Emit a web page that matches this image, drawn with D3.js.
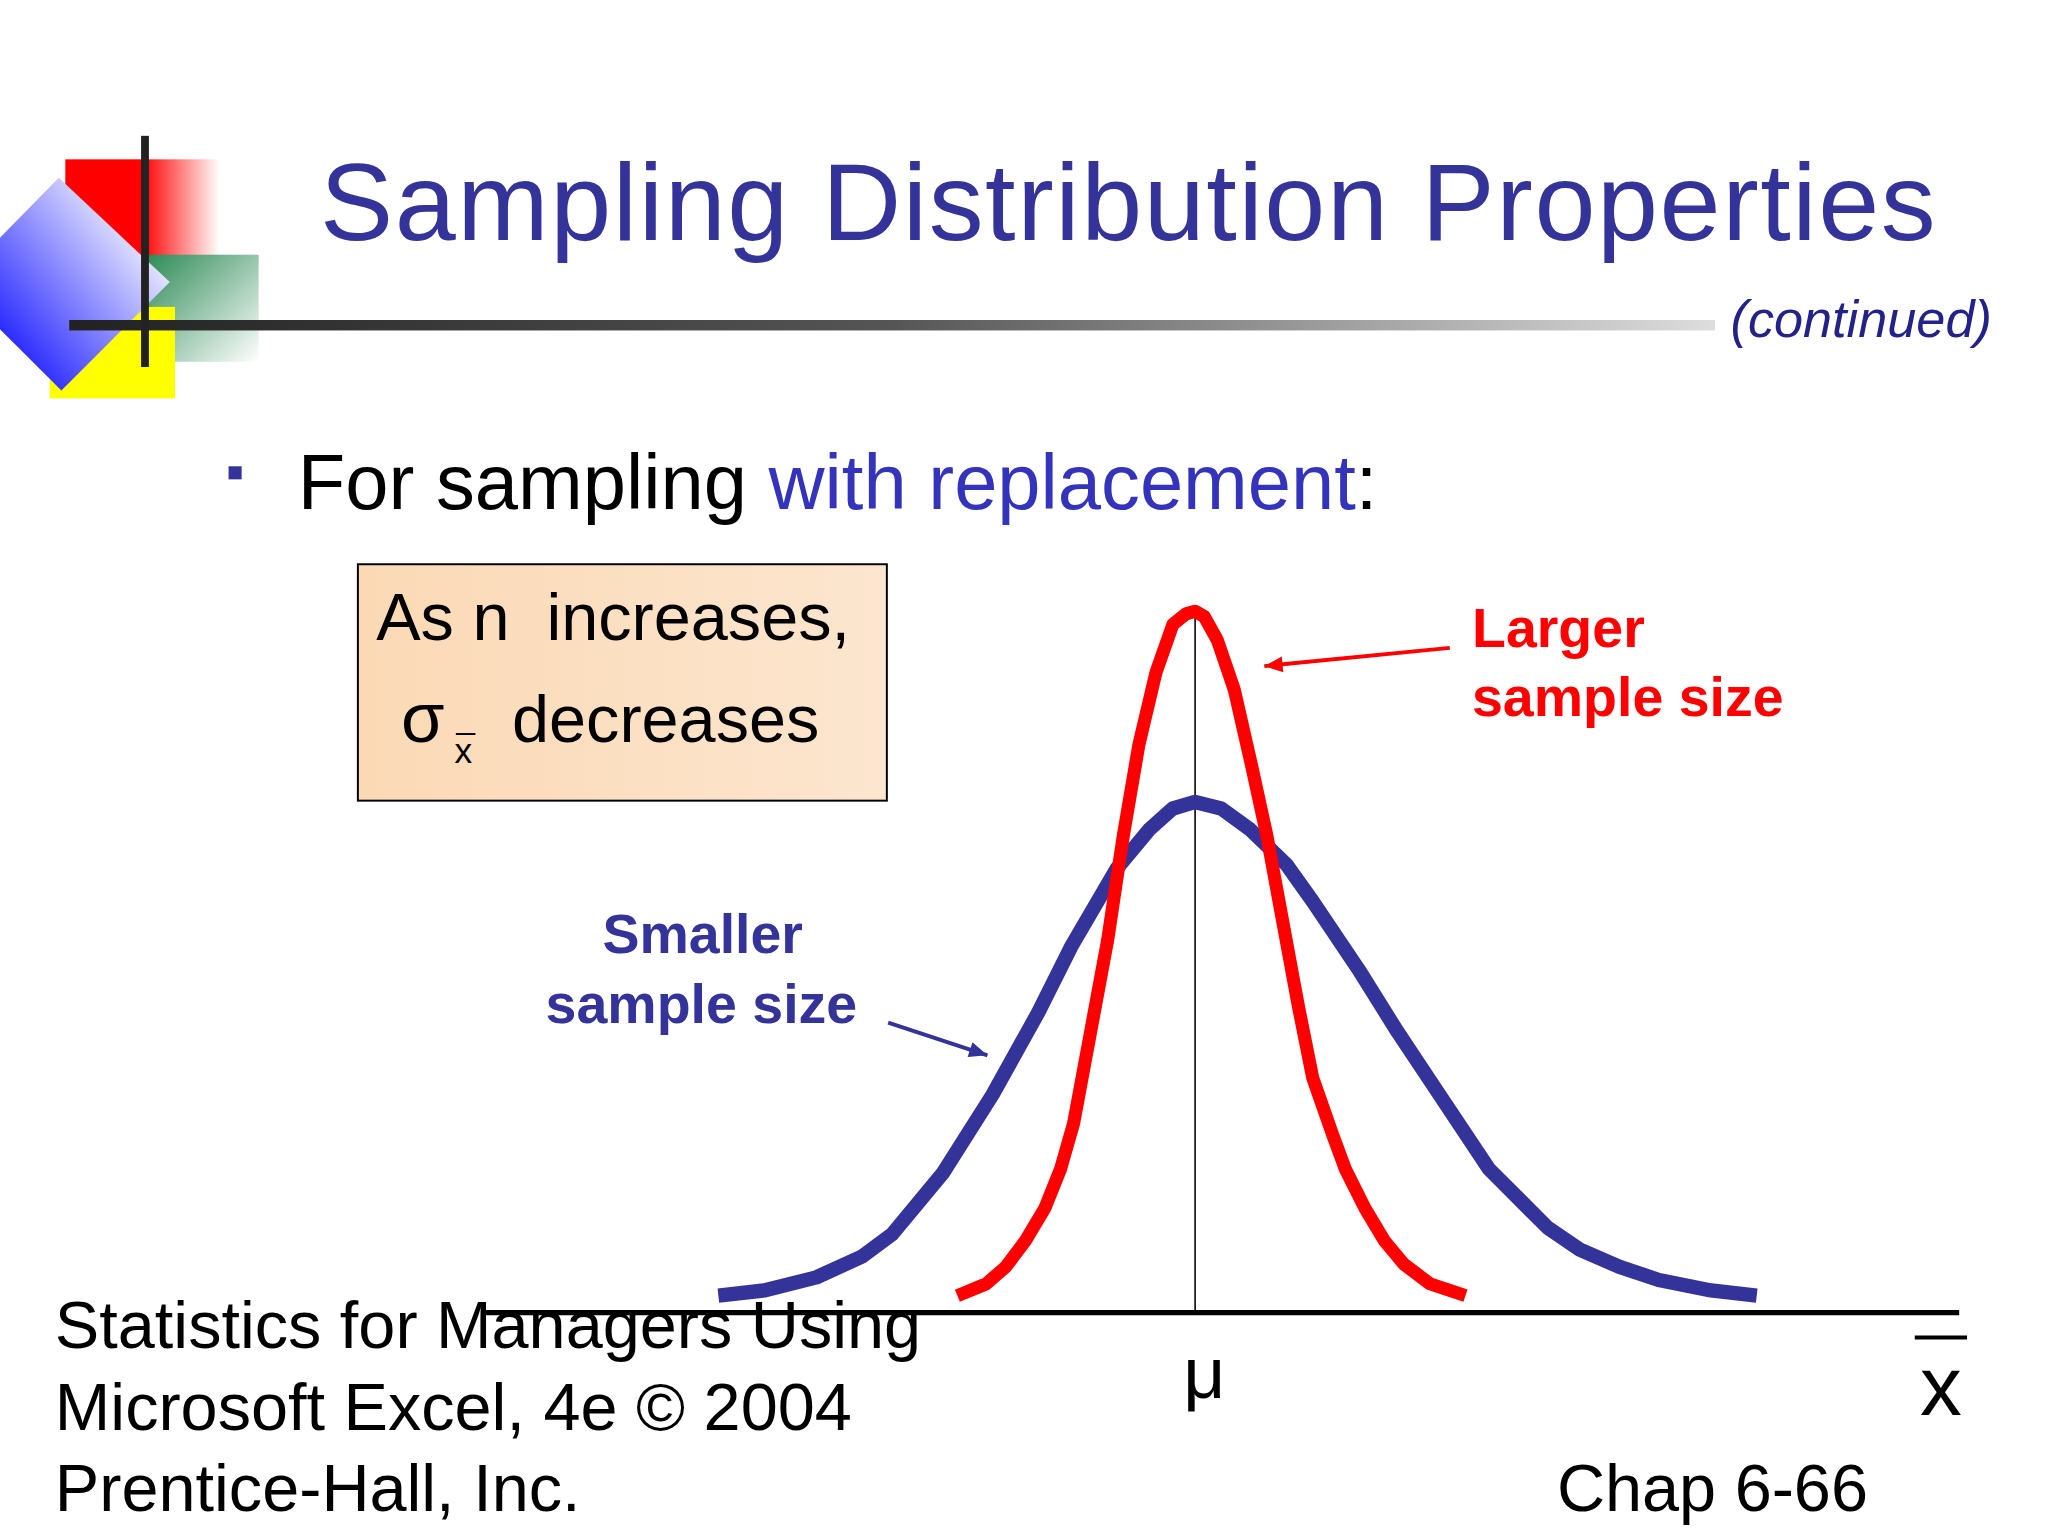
<!DOCTYPE html>
<html><head><meta charset="utf-8">
<script src="https://cdn.jsdelivr.net/npm/d3@7"></script>
<style>html,body{margin:0;padding:0;background:#fff;overflow:hidden}svg{display:block}</style>
</head><body>
<svg id="c" width="2048" height="1536" viewBox="0 0 1568 1176"></svg>
<script>
// Data: x in units from μ, y = curve height
const smallerX = [-3.65,-3.3,-2.9,-2.55,-2.32,-1.93,-1.55,-1.2,-0.95,-0.6,-0.35,-0.17,0,0.2,0.42,0.7,0.9,1.25,1.55,1.85,2.25,2.7,2.95,3.25,3.55,3.95,4.3];
const smallerY = [0.13,0.17,0.27,0.43,0.6,1.07,1.67,2.3,2.8,3.4,3.7,3.86,3.91,3.86,3.7,3.43,3.15,2.63,2.15,1.7,1.1,0.65,0.48,0.35,0.25,0.17,0.13];
const largerX = [-1.82,-1.6,-1.45,-1.3,-1.15,-1.03,-0.93,-0.8,-0.67,-0.55,-0.43,-0.3,-0.17,-0.07,0,0.07,0.17,0.3,0.43,0.55,0.67,0.79,0.9,1.05,1.15,1.3,1.45,1.6,1.8,2.07];
const largerY = [0.13,0.22,0.35,0.55,0.8,1.1,1.45,2.15,2.85,3.65,4.35,4.9,5.27,5.35,5.37,5.33,5.15,4.77,4.2,3.65,3.0,2.35,1.8,1.37,1.1,0.8,0.55,0.37,0.22,0.13];
const titleText = "Sampling Distribution Properties";
const footerLines = ["Statistics for Managers Using","Microsoft Excel, 4e © 2004","Prentice-Hall, Inc."];

const svg = d3.select("#c");
const defs = svg.append("defs");
function lg(id, x1,y1,x2,y2, stops){const g=defs.append("linearGradient").attr("id",id).attr("x1",x1).attr("y1",y1).attr("x2",x2).attr("y2",y2);stops.forEach(s=>g.append("stop").attr("offset",s[0]).attr("stop-color",s[1]).attr("stop-opacity",s[2]??1));}
lg("gRed",0,0,1,0,[[0,"#ff0000"],[0.5,"#ff0000"],[1,"#ffffff"]]);
lg("gGreen",0,0,1,1,[[0,"#2e8b57"],[1,"#ffffff"]]);
lg("gBlue",0,1,1,0,[[0,"#0000ff"],[0.85,"#ffffff"]]);
lg("gLine",0,0,1,0,[[0,"#222"],[0.5,"#555"],[1,"#ddd"]]);
lg("gBox",0,0,1,0,[[0,"#fbd9b5"],[1,"#fce6cf"]]);
const F="Liberation Sans, Arial, sans-serif";

// logo
svg.append("rect").attr("x",50).attr("y",122).attr("width",118).attr("height",114).attr("fill","url(#gRed)");
svg.append("rect").attr("x",113).attr("y",195).attr("width",85).attr("height",82).attr("fill","url(#gGreen)");
svg.append("rect").attr("x",38).attr("y",235).attr("width",96).attr("height",70).attr("fill","#ffff00");
svg.append("polygon").attr("points","45,136 130,216 47,299 0,252 0,182").attr("fill","url(#gBlue)");
svg.append("rect").attr("x",53).attr("y",245).attr("width",1260).attr("height",8).attr("fill","url(#gLine)");
svg.append("rect").attr("x",108).attr("y",104).attr("width",6).attr("height",177).attr("fill","#222");

svg.append("text").attr("x",245).attr("y",184).attr("font-family",F).attr("font-size",84).attr("fill","#333399").attr("textLength",1237).text(titleText);
svg.append("text").attr("x",1525).attr("y",258).attr("text-anchor","end").attr("font-family",F).attr("font-style","italic").attr("font-size",40).attr("fill","#222288").text("(continued)");

svg.append("rect").attr("x",175).attr("y",357).attr("width",10).attr("height",10).attr("fill","#333399");
const t=svg.append("text").attr("x",228).attr("y",390).attr("font-family",F).attr("font-size",59.5).attr("fill","#000");
t.append("tspan").text("For sampling ");
t.append("tspan").attr("fill","#3333bb").text("with replacement");
t.append("tspan").text(":");

svg.append("rect").attr("x",274).attr("y",432).attr("width",405).attr("height",181).attr("fill","url(#gBox)").attr("stroke","#000").attr("stroke-width",1.5);
svg.append("text").attr("x",288).attr("y",490).attr("font-family",F).attr("font-size",51).attr("xml:space","preserve").text("As n  increases,");
svg.append("text").attr("x",307).attr("y",568).attr("font-family",F).attr("font-size",54).text("σ");
svg.append("text").attr("x",348).attr("y",584).attr("font-family",F).attr("font-size",27).text("x");
svg.append("line").attr("x1",349).attr("x2",364).attr("y1",562).attr("y2",562).attr("stroke","#000").attr("stroke-width",1.5);
svg.append("text").attr("x",392).attr("y",568).attr("font-family",F).attr("font-size",51).text("decreases");

// chart
const x = d3.scaleLinear().domain([-5.45,5.85]).range([370,1500]);
const y = d3.scaleLinear().domain([0,5.4]).range([1005,465]);
svg.append("line").attr("x1",x(-5.45)).attr("x2",x(5.85)).attr("y1",y(0)).attr("y2",y(0)).attr("stroke","#000").attr("stroke-width",4);
svg.append("line").attr("x1",x(0)).attr("x2",x(0)).attr("y1",y(0)).attr("y2",y(5.37)).attr("stroke","#000").attr("stroke-width",1.2);
const line=d3.line().x(d=>x(d[0])).y(d=>y(d[1]));
svg.append("path").datum(d3.zip(smallerX,smallerY)).attr("d",line).attr("fill","none").attr("stroke","#333399").attr("stroke-width",11).attr("stroke-linejoin","round");
svg.append("path").datum(d3.zip(largerX,largerY)).attr("d",line).attr("fill","none").attr("stroke","#ff0000").attr("stroke-width",10).attr("stroke-linejoin","round");

function arrow(x1,y1,x2,y2,c){svg.append("line").attr("x1",x1).attr("y1",y1).attr("x2",x2).attr("y2",y2).attr("stroke",c).attr("stroke-width",3);
 const a=Math.atan2(y2-y1,x2-x1),L=14,W=6;
 const p=[[x2,y2],[x2-L*Math.cos(a)+W*Math.sin(a),y2-L*Math.sin(a)-W*Math.cos(a)],[x2-L*Math.cos(a)-W*Math.sin(a),y2-L*Math.sin(a)+W*Math.cos(a)]];
 svg.append("polygon").attr("points",p.map(q=>q.join(",")).join(" ")).attr("fill",c);}
arrow(1110,496,968,510,"#ff0000");
arrow(680,783,756,808,"#333399");
const lbl=(txt,xx,yy,c,anc)=>svg.append("text").attr("x",xx).attr("y",yy).attr("fill",c).attr("text-anchor",anc).attr("font-family",F).attr("font-weight","bold").attr("font-size",42.5).text(txt);
lbl("Larger",1127,495,"#ff0000","start");
lbl("sample size",1127,548,"#ff0000","start");
lbl("Smaller",538,730,"#333399","middle");
lbl("sample size",537,783,"#333399","middle");

svg.append("text").attr("x",922).attr("y",1070).attr("text-anchor","middle").attr("font-family",F).attr("font-size",56).text("μ");
svg.append("text").attr("x",1486).attr("y",1083).attr("text-anchor","middle").attr("font-family",F).attr("font-size",64).text("x");
svg.append("line").attr("x1",1466).attr("x2",1506).attr("y1",1024).attr("y2",1024).attr("stroke","#000").attr("stroke-width",3);

footerLines.forEach((s,i)=>svg.append("text").attr("x",42).attr("y",1032+i*62.5).attr("font-family",F).attr("font-size",51).text(s));
svg.append("text").attr("x",1192).attr("y",1157).attr("font-family",F).attr("font-size",51).text("Chap 6-66");
</script>
</body></html>
